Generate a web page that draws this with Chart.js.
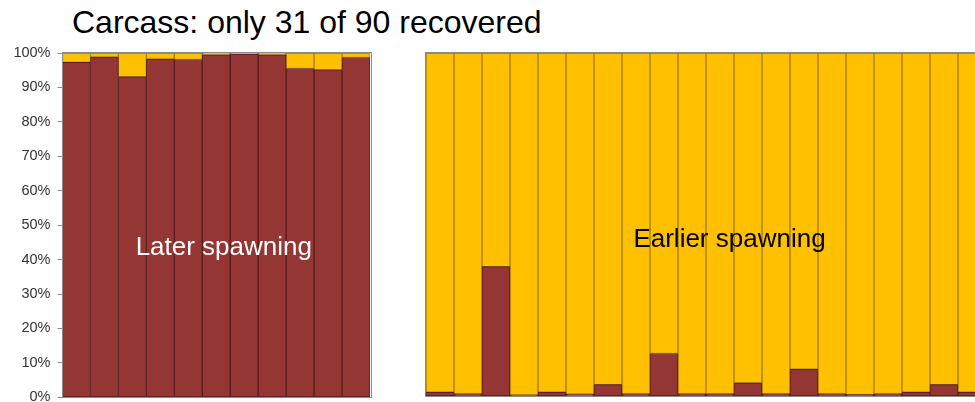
<!DOCTYPE html>
<html>
<head>
<meta charset="utf-8">
<script src="https://cdn.jsdelivr.net/npm/chart.js@4/dist/chart.umd.min.js"></script>
<style>
  html, body { margin: 0; padding: 0; background: #fff; }
  body { width: 975px; height: 402px; overflow: hidden; position: relative; font-family: "Liberation Sans", Arial, sans-serif; }
  #title { position: absolute; left: 72px; top: 6px; font-size: 32px; line-height: 32px; color: #000; white-space: nowrap; }
  .box { position: absolute; top: 0; }
  #leftBox { left: 0; width: 380px; height: 413px; }
  #rightBox { left: 420px; width: 600px; height: 402px; }
</style>
</head>
<body>
<div id="title">Carcass: only 31 of 90 recovered</div>
<div class="box" id="leftBox"><canvas id="leftChart"></canvas></div>
<div class="box" id="rightBox"><canvas id="rightChart"></canvas></div>
<script>
// Later-spawning fish (share of each signal, in percent)
const laterFish = ['L1', 'L2', 'L3', 'L4', 'L5', 'L6', 'L7', 'L8', 'L9', 'L10', 'L11'];
const laterRed = [97.3, 98.8, 93.1, 98.2, 98.1, 99.5, 99.7, 99.5, 95.5, 95.1, 98.7];
const laterGold = [2.7, 1.2, 6.9, 1.8, 1.9, 0.5, 0.3, 0.5, 4.5, 4.9, 1.3];

// Earlier-spawning fish
const earlierFish = ['E1', 'E2', 'E3', 'E4', 'E5', 'E6', 'E7', 'E8', 'E9', 'E10',
  'E11', 'E12', 'E13', 'E14', 'E15', 'E16', 'E17', 'E18', 'E19', 'E20'];
const earlierRed = [1.1, 0.6, 37.7, 0.3, 1.1, 0.5, 3.3, 0.6, 12.4, 0.6,
  0.6, 3.8, 0.6, 7.8, 0.6, 0.4, 0.6, 1.1, 3.3, 1.1];
const earlierGold = [98.9, 99.4, 62.3, 99.7, 98.9, 99.5, 96.7, 99.4, 87.6, 99.4,
  99.4, 96.2, 99.4, 92.2, 99.4, 99.6, 99.4, 98.9, 96.7, 98.9];

const yTicks = [0, 10, 20, 30, 40, 50, 60, 70, 80, 90, 100];

const RED = '#943634';
const RED_EDGE = '#5a1c1c';
const GOLD = '#FFC000';
const GOLD_EDGE = '#a37b0c';
const FRAME = '#8c8c8c';

// Draws a grey frame around the plot area and a caption inside it
function framePlugin(caption) {
  return {
    id: 'frameAndCaption',
    afterDatasetsDraw(chart) {
      const { ctx, chartArea: a, scales } = chart;
      ctx.save();
      ctx.strokeStyle = FRAME;
      ctx.lineWidth = 1;
      ctx.strokeRect(Math.round(a.left) - 0.5, Math.round(a.top) - 0.5,
        Math.round(a.right - a.left) + 1, Math.round(a.bottom - a.top) + 1);
      ctx.font = '26px "Liberation Sans", Arial, sans-serif';
      ctx.fillStyle = caption.color;
      ctx.textAlign = 'center';
      ctx.textBaseline = 'alphabetic';
      ctx.fillText(caption.text, a.left + caption.dx, scales.y.getPixelForValue(caption.yValue));
      ctx.restore();
    }
  };
}

function makeChart(id, labels, red, gold, opts) {
  return new Chart(document.getElementById(id), {
    type: 'bar',
    data: {
      labels: labels,
      datasets: [
        { data: red, backgroundColor: RED, borderColor: RED_EDGE, borderWidth: 1, borderSkipped: false },
        { data: gold, backgroundColor: GOLD, borderColor: GOLD_EDGE, borderWidth: 1, borderSkipped: false }
      ]
    },
    options: {
      responsive: true,
      maintainAspectRatio: false,
      animation: false,
      layout: { padding: opts.padding },
      datasets: { bar: { categoryPercentage: 1, barPercentage: 1 } },
      plugins: { legend: { display: false }, tooltip: { enabled: false }, title: { display: false } },
      scales: {
        x: { stacked: true, display: false, offset: true },
        y: {
          stacked: true,
          min: 0,
          max: 100,
          display: opts.showY,
          afterBuildTicks(scale) { scale.ticks = yTicks.map(v => ({ value: v })); },
          afterFit(scale) { if (opts.showY) scale.width = 62.5; },
          border: { display: false },
          grid: { display: true, drawOnChartArea: false, drawTicks: true, tickLength: 5, color: FRAME },
          ticks: {
            padding: 7,
            color: '#333',
            font: { family: '"Liberation Sans", Arial, sans-serif', size: 14.5 },
            callback: v => v + '%'
          }
        }
      }
    },
    plugins: [framePlugin(opts.caption)]
  });
}

makeChart('leftChart', laterFish, laterRed, laterGold, {
  padding: { top: 53, bottom: 6, left: 0, right: 10 },
  showY: true,
  caption: { text: 'Later spawning', color: '#fff', dx: 161.3, yValue: 41.4 }
});

makeChart('rightChart', earlierFish, earlierRed, earlierGold, {
  padding: { top: 53, bottom: 6, left: 6, right: 34 },
  showY: false,
  caption: { text: 'Earlier spawning', color: '#000', dx: 303.5, yValue: 43.4 }
});
</script>
</body>
</html>
